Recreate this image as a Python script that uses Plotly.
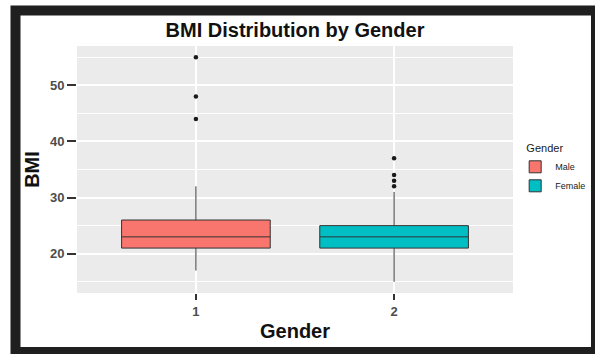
import plotly.graph_objects as go

# ---- data ----
genders = ["Male", "Female"]
positions = [1, 2]
tick_labels = ["1", "2"]
q1_vals = [21, 21]
median_vals = [23, 23]
q3_vals = [26, 25]
lower_whisker = [17, 15]
upper_whisker = [32, 31]
male_outliers = [55, 48, 44]
female_outliers = [37, 34, 33, 32]
outliers = [male_outliers, female_outliers]
fill_colors = ["#F8766D", "#00BFC4"]

FONT = "Liberation Sans, Arial, sans-serif"

W, H = 595, 354
PL, PR, PT, PB = 77, 513, 46, 293  # plot-area edges in pixels

fig = go.Figure()
for i, g in enumerate(genders):
    fig.add_trace(go.Box(
        name=g,
        x=[positions[i]],
        q1=[q1_vals[i]], median=[median_vals[i]], q3=[q3_vals[i]],
        lowerfence=[lower_whisker[i]], upperfence=[upper_whisker[i]],
        width=0.75,
        whiskerwidth=0,
        fillcolor=fill_colors[i],
        line=dict(color="#333333", width=1),
        boxpoints=False,
        legendgroup=g,
    ))
for i, g in enumerate(genders):
    fig.add_trace(go.Scatter(
        x=[positions[i]] * len(outliers[i]),
        y=outliers[i],
        mode="markers",
        marker=dict(color="#1a1a1a", size=4.5),
        showlegend=False,
        legendgroup=g,
        hoverinfo="y",
    ))

fig.update_layout(
    width=W, height=H,
    margin=dict(l=PL, r=W - PR, t=PT, b=H - PB, autoexpand=False),
    paper_bgcolor="white",
    plot_bgcolor="#EBEBEB",
    boxmode="overlay",
    font=dict(family=FONT, color="#1a1a1a"),
    title=dict(
        text="BMI Distribution by Gender",
        x=(PL + PR) / 2 / W, xanchor="center",
        y=1 - 30 / H, yanchor="middle", yref="container",
        font=dict(size=20, weight="bold", color="#111111", family=FONT),
    ),
    legend=dict(
        title=dict(text="\u00a0\u00a0\u00a0Gender", font=dict(size=11, color="#1a1a1a")),
        font=dict(size=9, color="#1a1a1a"),
        x=1.005, xanchor="left", y=0.5, yanchor="middle",
        bgcolor="rgba(0,0,0,0)",
        itemwidth=30,
        tracegroupgap=0,
    ),
    showlegend=True,
)

fig.update_xaxes(
    range=[0.4, 2.6],
    tickmode="array", tickvals=positions, ticktext=tick_labels,
    showgrid=True, gridcolor="white", gridwidth=1.5,
    zeroline=False,
    ticks="outside", ticklen=6, tickwidth=1.5, tickcolor="#333333",
    tickfont=dict(size=13, color="#4D4D4D", weight="bold", family=FONT),
    title=dict(text="Gender", standoff=6,
               font=dict(size=20, weight="bold", color="#111111", family=FONT)),
)
fig.update_yaxes(
    range=[13, 57],
    tickmode="linear", tick0=0, dtick=10,
    showgrid=True, gridcolor="white", gridwidth=1.5,
    minor=dict(dtick=5, tick0=0, showgrid=True, gridcolor="white", gridwidth=0.7, ticks=""),
    zeroline=False,
    ticks="outside", ticklen=9, tickwidth=1.5, tickcolor="#333333",
    tickfont=dict(size=13, color="#4D4D4D", weight="bold", family=FONT),
    title=dict(text="BMI", standoff=4,
               font=dict(size=20, weight="bold", color="#111111", family=FONT)),
)

# dark frame around the picture (as in the reference screenshot)
pw, ph = PR - PL, PB - PT
fig.add_shape(
    type="rect", xref="paper", yref="paper",
    x0=(15.5 - PL) / pw, x1=(596 - PL) / pw,
    y0=(PB - 352) / ph, y1=(PB - 10.5) / ph,
    line=dict(color="#1f1f1f", width=10),
    fillcolor="rgba(0,0,0,0)",
    layer="above",
)

fig.write_html(
    "out.html",
    config={"displayModeBar": False},
    post_script="document.body.style.margin='0';document.body.style.overflow='hidden';",
)
